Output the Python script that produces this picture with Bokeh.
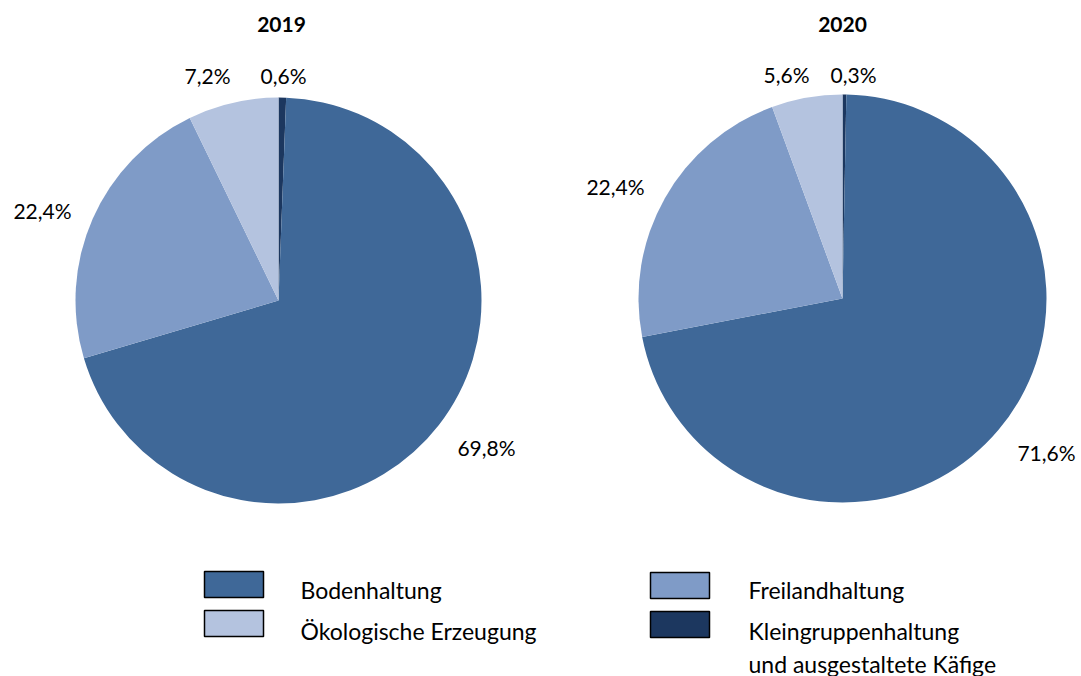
import math
from bokeh.plotting import figure
from bokeh.models import Range1d, ColumnDataSource
from bokeh.core.properties import value
from bokeh.embed import file_html
from bokeh.resources import INLINE

# ---------------- data ----------------
years = ["2019", "2020"]
categories = ["Kleingruppenhaltung und ausgestaltete Käfige", "Bodenhaltung",
              "Freilandhaltung", "Ökologische Erzeugung"]
share_2019 = [0.6, 69.8, 22.4, 7.2]
share_2020 = [0.3, 71.6, 22.4, 5.6]
labels_2019 = ["0,6%", "69,8%", "22,4%", "7,2%"]
labels_2020 = ["0,3%", "71,6%", "22,4%", "5,6%"]
cat_colors = ["#1C375F", "#3F6898", "#7F9BC7", "#B4C3DF"]

legend_labels = ["Bodenhaltung", "Ökologische Erzeugung", "Freilandhaltung",
                 "Kleingruppenhaltung\nund ausgestaltete Käfige"]
legend_colors = ["#3F6898", "#B4C3DF", "#7F9BC7", "#1C375F"]

# ---------------- layout (pixels, from top-left) ----------------
W, H = 1081, 676
FONT = "Lato"
pie_centers = [(278, 300), (842, 298)]
pie_radius = [203, 204]
title_pos = [(281, 24), (842, 24)]
# label centres per slice (same order as categories)
label_pos = [
    [(283, 75), (486, 447), (42, 210), (207, 75)],
    [(853, 74), (1046, 452), (615, 186), (786, 74)],
]
legend_box = [(204, 571), (204, 610), (650, 572), (650, 611)]
legend_text = [(300, 589), (300, 630), (748, 589), (748, 630)]
BOX_W, BOX_H = 59, 26
LINE_GAP = 33

def Y(y):
    return H - y

p = figure(width=W, height=H, x_range=Range1d(0, W), y_range=Range1d(0, H),
           output_backend="svg", toolbar_location=None, min_border=0,
           x_axis_type=None, y_axis_type=None)
p.grid.visible = False
p.outline_line_color = None
p.background_fill_color = "white"
p.border_fill_color = "white"

for i, shares in enumerate([share_2019, share_2020]):
    total = sum(shares)
    starts, ends = [], []
    cum = 0.0
    for v in shares:
        s = math.pi / 2 - 2 * math.pi * cum / total
        cum += v
        e = math.pi / 2 - 2 * math.pi * cum / total
        starts.append(s)
        ends.append(e)
    cx, cy = pie_centers[i]
    src = ColumnDataSource(dict(start=starts, end=ends, color=cat_colors))
    p.wedge(x=cx, y=Y(cy), radius=pie_radius[i], radius_units="screen",
            start_angle="start", end_angle="end", direction="clock",
            fill_color="color", line_color=None, source=src)
    labs = [labels_2019, labels_2020][i]
    lx = [pt[0] for pt in label_pos[i]]
    ly = [Y(pt[1]) for pt in label_pos[i]]
    p.text(x=lx, y=ly, text=labs, text_font=value(FONT), text_font_size="21px",
           text_align="center", text_baseline="middle", text_color="#000000")
    tx, ty = title_pos[i]
    p.text(x=[tx], y=[Y(ty)], text=[years[i]], text_font=value(FONT),
           text_font_size="21px", text_font_style="bold",
           text_align="center", text_baseline="middle", text_color="#000000")

# legend
bx = [b[0] + BOX_W / 2 for b in legend_box]
by = [Y(b[1] + BOX_H / 2) for b in legend_box]
p.rect(x=bx, y=by, width=BOX_W, height=BOX_H, width_units="screen",
       height_units="screen", fill_color=legend_colors, line_color="#000000",
       line_width=1.5)
for (tx, ty), lab in zip(legend_text, legend_labels):
    lines = lab.split("\n")
    p.text(x=[tx] * len(lines), y=[Y(ty + k * LINE_GAP) for k in range(len(lines))],
           text=lines, text_font=value(FONT), text_font_size="23px",
           text_align="left", text_baseline="middle", text_color="#000000")

open("out.html", "w").write(file_html(p, INLINE))
